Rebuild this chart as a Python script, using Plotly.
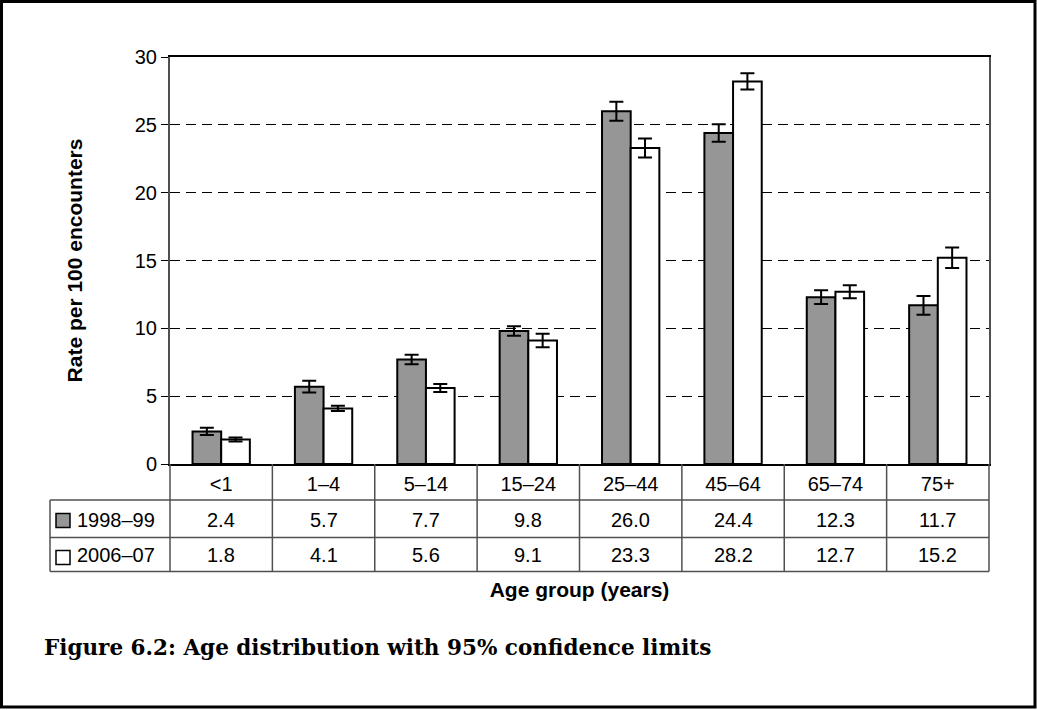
import plotly.graph_objects as go

# ---- data ----
age_groups = ["<1", "1–4", "5–14", "15–24", "25–44", "45–64", "65–74", "75+"]
series_names = ["1998–99", "2006–07"]
rate_1998 = [2.4, 5.7, 7.7, 9.8, 26.0, 24.4, 12.3, 11.7]
rate_2006 = [1.8, 4.1, 5.6, 9.1, 23.3, 28.2, 12.7, 15.2]
ci_1998 = [0.27, 0.43, 0.35, 0.35, 0.70, 0.64, 0.50, 0.69]
ci_2006 = [0.15, 0.20, 0.30, 0.50, 0.70, 0.60, 0.48, 0.76]
y_ticks = [0, 5, 10, 15, 20, 25, 30]

# ---- geometry (pixels) ----
W, H = 1037, 710
L, R, T, B = 170, 989, 57, 464


def px(x):
    return (x - L) / (R - L)


def py(y):
    return (B - y) / (B - T)


FONT = "Liberation Sans, Arial, sans-serif"
LINE = "#505050"

fig = go.Figure()
fig.add_trace(go.Bar(
    x=age_groups, y=rate_1998, name=series_names[0],
    marker=dict(color="#969696", line=dict(color="black", width=2)),
    error_y=dict(type="data", array=ci_1998, visible=True,
                 color="black", thickness=2, width=7),
    showlegend=False,
))
fig.add_trace(go.Bar(
    x=age_groups, y=rate_2006, name=series_names[1],
    marker=dict(color="white", line=dict(color="black", width=2)),
    error_y=dict(type="data", array=ci_2006, visible=True,
                 color="black", thickness=2, width=7),
    showlegend=False,
))

shapes = []
# outer frame
shapes.append(dict(type="rect", xref="paper", yref="paper",
                   x0=px(1.5), x1=px(1035), y0=py(1.5), y1=py(707),
                   line=dict(color="black", width=3)))
# table horizontal lines
for yy in [500, 537.5, 571.5]:
    shapes.append(dict(type="line", xref="paper", yref="paper",
                       x0=px(50), x1=px(R), y0=py(yy), y1=py(yy),
                       line=dict(color=LINE, width=1.5)))
# table left edge
shapes.append(dict(type="line", xref="paper", yref="paper",
                   x0=px(50), x1=px(50), y0=py(500), y1=py(571.5),
                   line=dict(color=LINE, width=1.5)))
# table vertical lines at category boundaries
n = len(age_groups)
for i in range(n + 1):
    xx = L + i * (R - L) / n
    shapes.append(dict(type="line", xref="paper", yref="paper",
                       x0=px(xx), x1=px(xx), y0=py(B), y1=py(571.5),
                       line=dict(color=LINE, width=1.5)))
# legend keys
shapes.append(dict(type="rect", xref="paper", yref="paper",
                   x0=px(56), x1=px(70), y0=py(513.5), y1=py(527.5),
                   fillcolor="#969696", line=dict(color="black", width=1.5)))
shapes.append(dict(type="rect", xref="paper", yref="paper",
                   x0=px(56), x1=px(70), y0=py(550.5), y1=py(564.5),
                   fillcolor="white", line=dict(color="black", width=1.5)))

annotations = []
row_y = [520, 555]
for vals, yy in zip([rate_1998, rate_2006], row_y):
    for cat, v in zip(age_groups, vals):
        annotations.append(dict(x=cat, xref="x", y=py(yy), yref="paper",
                                text=f"{v:.1f}", showarrow=False,
                                xanchor="center", yanchor="middle",
                                font=dict(family=FONT, size=20, color="black")))
for name, yy in zip(series_names, row_y):
    annotations.append(dict(x=px(75), xref="paper", y=py(yy), yref="paper",
                            text=name, showarrow=False,
                            xanchor="left", yanchor="middle",
                            font=dict(family=FONT, size=20, color="black")))
# figure caption
annotations.append(dict(x=px(42), xref="paper", y=py(647), yref="paper",
                        text="<b>Figure 6.2: Age distribution with 95% confidence limits</b>",
                        showarrow=False, xanchor="left", yanchor="middle",
                        font=dict(family="DejaVu Serif, serif",
                                  size=21.5, color="black")))

fig.update_layout(
    width=W, height=H,
    margin=dict(l=L, r=W - R, t=T, b=H - B, pad=0),
    paper_bgcolor="white", plot_bgcolor="white",
    barmode="group", bargap=0.44, bargroupgap=0,
    font=dict(family=FONT, size=20, color="black"),
    shapes=shapes, annotations=annotations,
    xaxis=dict(
        type="category", showline=True, mirror=True,
        linecolor="black", linewidth=1.5,
        ticks="", showgrid=False,
        tickfont=dict(family=FONT, size=20, color="black"),
        ticklabelstandoff=1,
        title=dict(text="<b>Age group (years)</b>",
                   font=dict(family=FONT, size=21, color="black"),
                   standoff=89),
        fixedrange=True,
    ),
    yaxis=dict(
        range=[0, 30], tickvals=y_ticks, ticktext=[str(t) for t in y_ticks],
        showline=True, mirror=True, linecolor=LINE, linewidth=2,
        ticks="outside", ticklen=7, tickcolor="black", tickwidth=1,
        showgrid=True, gridcolor="black", gridwidth=1, griddash="10px,6px",
        zeroline=False,
        tickfont=dict(family=FONT, size=20, color="black"),
        title=dict(text="<b>Rate per 100 encounters</b>",
                   font=dict(family=FONT, size=21, color="black"),
                   standoff=46),
        fixedrange=True,
    ),
)

fig.write_html("out.html",
               config={"displayModeBar": False},
               post_script="document.body.style.margin='0';document.body.style.overflow='hidden';")
